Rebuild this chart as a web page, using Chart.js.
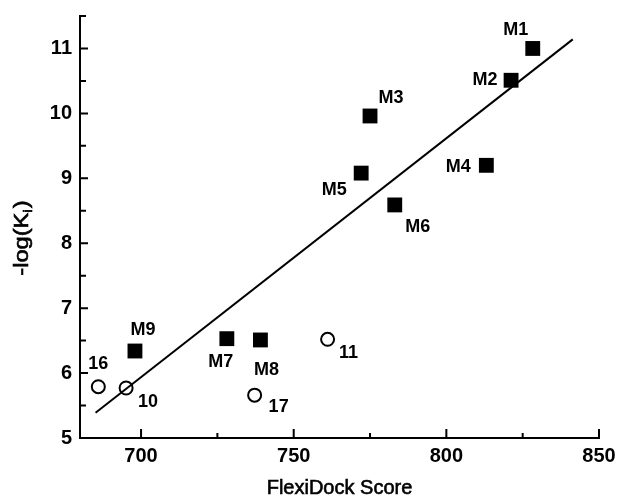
<!DOCTYPE html>
<html lang="en">
<head>
  <meta charset="UTF-8">
  <title>FlexiDock Score vs -log(Ki)</title>
  <script src="https://cdn.jsdelivr.net/npm/chart.js"></script>
  <style>
    html, body { margin: 0; padding: 0; background: #fff; }
    #wrap { width: 618px; height: 495px; }
  </style>
</head>
<body>
<div id="wrap"><canvas id="chart"></canvas></div>
<script>
  // Training set (filled squares)
  const modelNames  = ['M1', 'M2', 'M3', 'M4', 'M5', 'M6', 'M7', 'M8', 'M9'];
  const modelScores = [828.3, 821.2, 775.0, 813.1, 772.1, 783.1, 728.1, 739.1, 698.0];
  const modelKi     = [11.00, 10.51, 9.96, 9.20, 9.08, 8.59, 6.53, 6.51, 6.34];

  // Test compounds (open circles)
  const testNames  = ['16', '10', '17', '11'];
  const testScores = [686.0, 695.1, 737.2, 761.1];
  const testKi     = [5.79, 5.77, 5.66, 6.52];

  // Regression line end points
  const fitScores = [685.1, 841.4];
  const fitKi     = [5.39, 11.14];

  // Axis ticks
  const xMajorTicks = [700, 750, 800, 850];
  const xMinorTicks = [725, 775, 825];
  const yMajorTicks = [5, 6, 7, 8, 9, 10, 11];
  const yMinorTicks = [5.5, 6.5, 7.5, 8.5, 9.5, 10.5, 11.5];

  // label placement relative to the marker (px)
  const modelLabelOffsets = [[-17, -18], [-26, 0], [21, -18], [-28, 2], [-27, 17], [23, 22], [-6, 23], [6, 30], [8, -21]];
  const testLabelOffsets  = [[0, -23], [22, 14], [24, 12], [21, 14]];

  const FONT = "'Liberation Sans', Arial, sans-serif";

  const toPoints = (xs, ys) => xs.map((x, i) => ({ x, y: ys[i] }));

  // fill + thin stroke so the regular face reads as heavy as the scan
  function heavyText(ctx, txt, x, y) {
    ctx.fillText(txt, x, y);
    ctx.strokeText(txt, x, y);
  }

  const annotate = {
    id: 'annotate',
    afterDraw(chart) {
      const ctx = chart.ctx;
      const xs = chart.scales.x, ys = chart.scales.y;
      const left = chart.chartArea.left, bottom = chart.chartArea.bottom;
      ctx.save();
      ctx.strokeStyle = '#000';
      ctx.lineWidth = 2;
      ctx.beginPath();
      xMajorTicks.forEach(v => { const p = xs.getPixelForValue(v); ctx.moveTo(p, bottom); ctx.lineTo(p, bottom - 9); });
      xMinorTicks.forEach(v => { const p = xs.getPixelForValue(v); ctx.moveTo(p, bottom); ctx.lineTo(p, bottom - 5); });
      yMajorTicks.forEach(v => { const p = ys.getPixelForValue(v); ctx.moveTo(left, p); ctx.lineTo(left + 8, p); });
      yMinorTicks.forEach(v => { const p = ys.getPixelForValue(v); ctx.moveTo(left, p); ctx.lineTo(left + 6, p); });
      ctx.stroke();

      // point labels
      ctx.fillStyle = '#000';
      ctx.textAlign = 'center';
      ctx.textBaseline = 'middle';
      ctx.font = 'bold 18px ' + FONT;
      chart.getDatasetMeta(1).data.forEach((el, i) => {
        const o = modelLabelOffsets[i];
        ctx.fillText(modelNames[i], el.x + o[0], el.y + o[1]);
      });
      chart.getDatasetMeta(2).data.forEach((el, i) => {
        const o = testLabelOffsets[i];
        ctx.fillText(testNames[i], el.x + o[0], el.y + o[1]);
      });

      // x title
      ctx.lineWidth = 0.6;
      ctx.font = '20px ' + FONT;
      ctx.textBaseline = 'alphabetic';
      heavyText(ctx, 'FlexiDock Score', (left + chart.chartArea.right) / 2, 494);

      // y title with subscript (a bit stretched, like the original)
      ctx.translate(21, 238);
      ctx.rotate(-Math.PI / 2);
      ctx.scale(1.18, 1);
      const big = '20px ' + FONT, small = '13px ' + FONT;
      ctx.font = big;
      const w1 = ctx.measureText('-log(K').width;
      const w3 = ctx.measureText(')').width;
      ctx.font = small;
      const w2 = ctx.measureText('i').width;
      let x0 = -(w1 + w2 + w3 + 1) / 2;
      ctx.textAlign = 'left';
      ctx.font = big;
      heavyText(ctx, '-log(K', x0, 7);
      ctx.font = small;
      heavyText(ctx, 'i', x0 + w1, 11);
      ctx.font = big;
      heavyText(ctx, ')', x0 + w1 + w2 + 1, 7);
      ctx.restore();
    }
  };

  new Chart(document.getElementById('chart'), {
    type: 'scatter',
    data: {
      datasets: [
        {
          type: 'line',
          data: toPoints(fitScores, fitKi),
          borderColor: '#000',
          borderWidth: 2,
          pointRadius: 0,
          fill: false
        },
        {
          data: toPoints(modelScores, modelKi),
          pointStyle: 'rect',
          pointRadius: 10.5,
          backgroundColor: '#000',
          borderColor: '#000',
          borderWidth: 0
        },
        {
          data: toPoints(testScores, testKi),
          pointStyle: 'circle',
          pointRadius: 6.5,
          backgroundColor: '#fff',
          borderColor: '#000',
          borderWidth: 2
        }
      ]
    },
    options: {
      responsive: true,
      maintainAspectRatio: false,
      animation: false,
      layout: { padding: { top: 16, right: 19, left: 0, bottom: 0 } },
      plugins: { legend: { display: false }, tooltip: { enabled: false } },
      scales: {
        x: {
          type: 'linear',
          min: 680,
          max: 850,
          afterBuildTicks: axis => { axis.ticks = xMajorTicks.map(v => ({ value: v })); },
          afterFit: axis => { axis.height = 57; axis.paddingLeft = 0; axis.paddingRight = 0; },
          grid: { display: false, drawTicks: false },
          border: { display: true, color: '#000', width: 2 },
          ticks: { color: '#000', padding: 6, maxRotation: 0, font: { family: FONT, size: 20, weight: 'bold' } }
        },
        y: {
          type: 'linear',
          min: 5,
          max: 11.5,
          afterBuildTicks: axis => { axis.ticks = yMajorTicks.map(v => ({ value: v })); },
          afterFit: axis => { axis.width = 80; axis.paddingTop = 0; axis.paddingBottom = 0; },
          grid: { display: false, drawTicks: false },
          border: { display: true, color: '#000', width: 2 },
          ticks: { color: '#000', padding: 8, font: { family: FONT, size: 20, weight: 'bold' } }
        }
      }
    },
    plugins: [annotate]
  });
</script>
</body>
</html>
